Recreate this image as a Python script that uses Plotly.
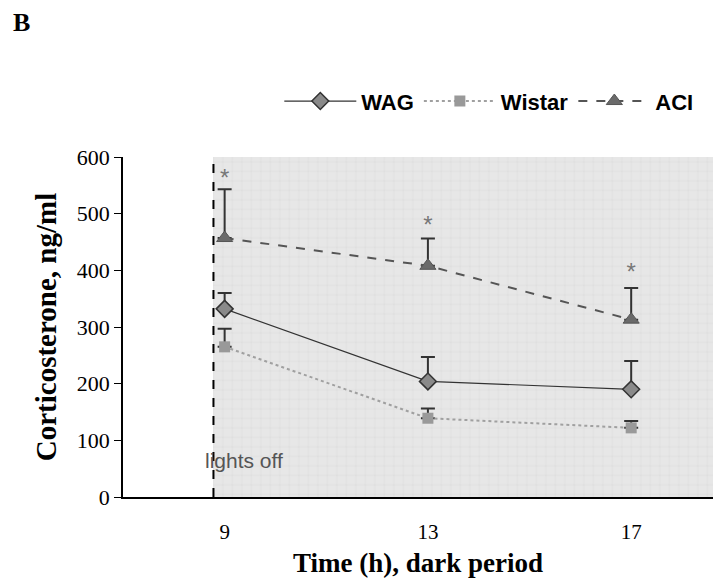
import plotly.graph_objects as go

# ---- data ----
hours = [9, 13, 17]
wag = [332, 204, 190]
wag_err = [28, 43, 50]
wistar = [265, 139, 122]
wistar_err = [32, 17, 12]
aci = [457, 408, 313]
aci_err = [86, 48, 56]
asterisk_y = [560, 476, 393]
lights_off_x = 8.78
x_range = [7.0, 18.61]
y_ticks = [0, 100, 200, 300, 400, 500, 600]

fig = go.Figure()

# shaded dark period (patterned)
fig.add_trace(go.Bar(
    x=[(lights_off_x + x_range[1]) / 2], y=[600], base=0,
    width=[x_range[1] - lights_off_x],
    marker=dict(color="#e6e6e6", line=dict(width=0),
                pattern=dict(shape="+", fgcolor="#cbcbcb", bgcolor="#e7e7e7",
                             size=9.5, solidity=0.12)),
    showlegend=False, hoverinfo="skip"))

err_style = dict(type="data", symmetric=False, color="#333333", thickness=2, width=7)

fig.add_trace(go.Scatter(
    x=hours, y=wag, name="WAG", mode="lines+markers",
    line=dict(color="#333333", width=1.2),
    marker=dict(symbol="diamond", size=13, color="#8a8a8a", line=dict(color="#333333", width=1.5)),
    error_y=dict(array=wag_err, arrayminus=[0, 0, 0], **err_style)))

fig.add_trace(go.Scatter(
    x=hours, y=wistar, name="Wistar", mode="lines+markers",
    line=dict(color="#a0a0a0", width=2, dash="dot"),
    marker=dict(symbol="square", size=11, color="#999999", line=dict(color="#999999", width=0)),
    error_y=dict(array=wistar_err, arrayminus=[0, 0, 0], **err_style)))

fig.add_trace(go.Scatter(
    x=hours, y=aci, name="ACI", mode="lines+markers",
    line=dict(color="#555555", width=2, dash="dash"),
    marker=dict(symbol="triangle-up", size=14, color="#6a6a6a", line=dict(color="#555555", width=1)),
    error_y=dict(array=aci_err, arrayminus=[0, 0, 0], **err_style)))

# asterisks
fig.add_trace(go.Scatter(
    x=hours, y=asterisk_y, mode="text", text=["*"] * 3,
    textfont=dict(family="Liberation Sans", size=24, color="#777777"),
    showlegend=False, hoverinfo="skip"))

# lights off dashed line
fig.add_shape(type="line", x0=lights_off_x, x1=lights_off_x, y0=0, y1=600,
              xref="x", yref="y", line=dict(color="black", width=2, dash="dash"))

fig.add_annotation(x=lights_off_x - 0.2, y=64, xref="x", yref="y", text="lights off",
                   showarrow=False, xanchor="left", yanchor="middle",
                   font=dict(family="Liberation Sans", size=21, color="#555555"))

fig.add_annotation(x=-0.19, y=1.396, xref="paper", yref="paper", text="<b>B</b>",
                   showarrow=False, xanchor="left", yanchor="middle",
                   font=dict(family="Liberation Serif", size=26, color="black"))

fig.update_layout(
    width=715, height=580,
    margin=dict(l=123, r=2, t=157, b=82.5),
    paper_bgcolor="white", plot_bgcolor="white",
    showlegend=True,
    legend=dict(orientation="h", x=0.62, y=1.164, xanchor="center", yanchor="middle",
                font=dict(family="Liberation Sans", size=22, color="black", weight="bold"),
                bgcolor="rgba(0,0,0,0)", traceorder="normal", itemwidth=72),
    xaxis=dict(range=x_range, tickvals=hours, ticktext=[str(h) for h in hours],
               showgrid=False, zeroline=False, showline=True, linecolor="black", linewidth=1.5,
               ticks="", ticklabelstandoff=15,
               tickfont=dict(family="Liberation Serif", size=21, color="black"),
               title=dict(text="<b>Time (h), dark period</b>", standoff=10,
                          font=dict(family="Liberation Serif", size=27, color="black"))),
    yaxis=dict(range=[0, 600], tickvals=y_ticks, showgrid=False, zeroline=False,
               showline=True, linecolor="black", linewidth=1.5,
               ticks="outside", ticklen=7, tickcolor="black", tickwidth=1,
               tickfont=dict(family="Liberation Serif", size=22, color="black"),
               title=dict(text="<b>Corticosterone, ng/ml</b>", standoff=12,
                          font=dict(family="Liberation Serif", size=29, color="black"))),
    bargap=0,
)

fig.write_html("out.html")
